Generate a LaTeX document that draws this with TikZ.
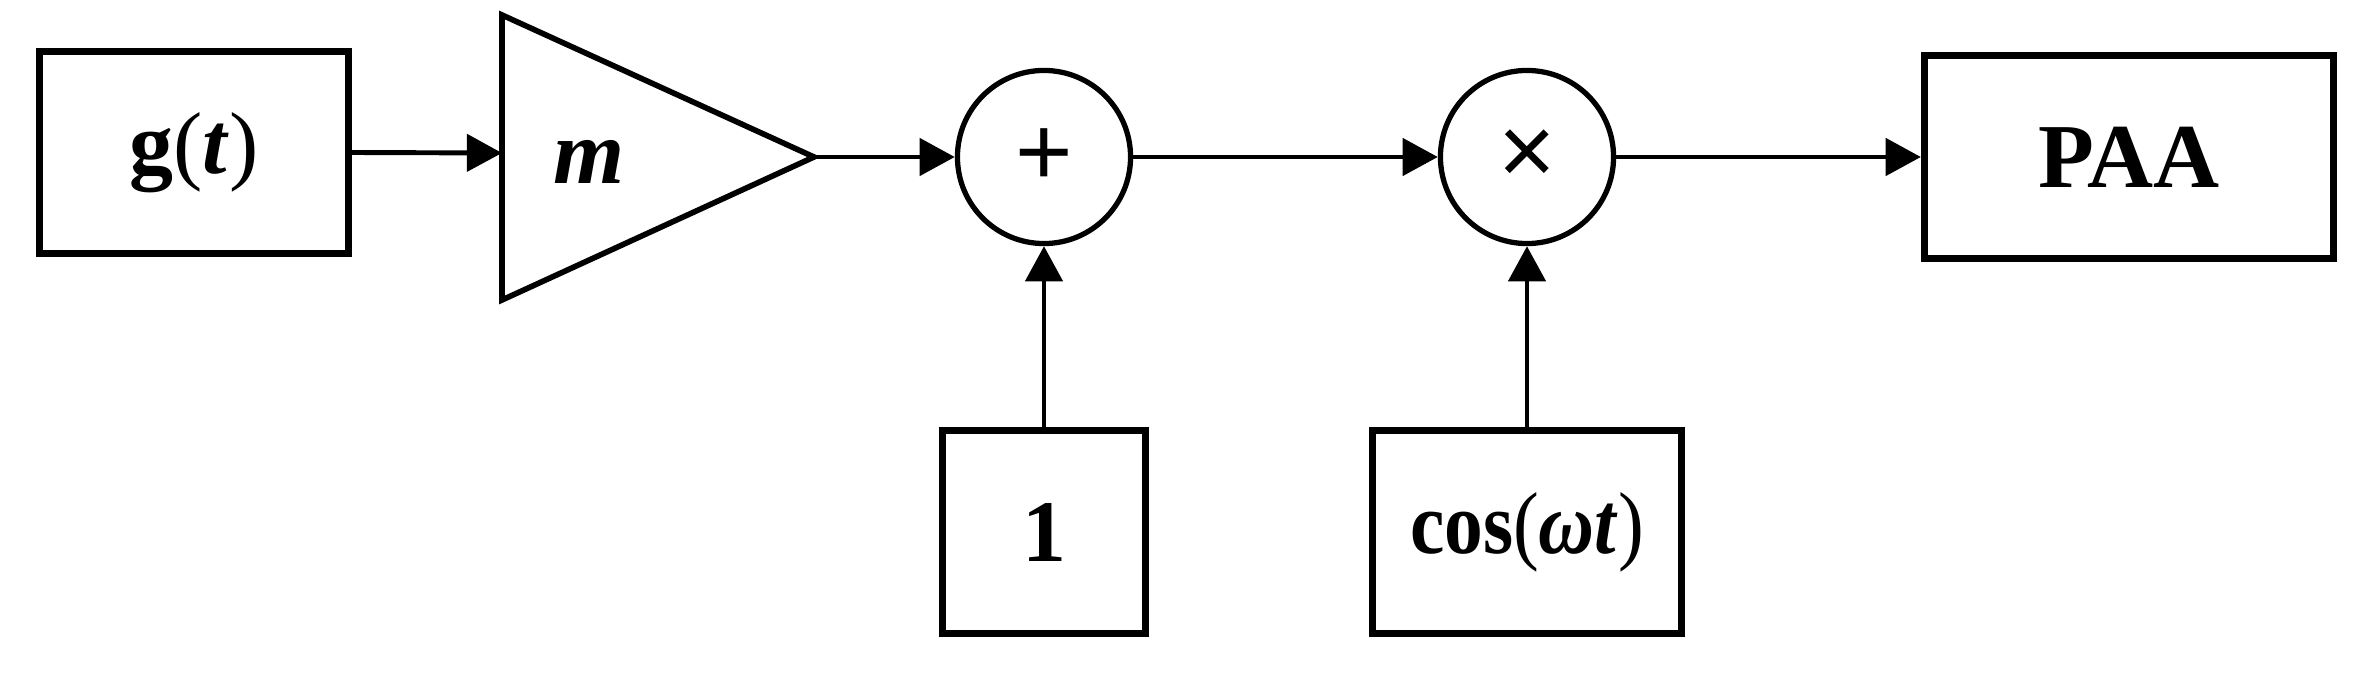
\documentclass[tikz,border=0pt]{standalone}
\usepackage{fontspec}
\setmainfont{Liberation Serif}
\newfontfamily\symfont{Liberation Sans}
\newfontfamily\narrowserif{Liberation Serif}[FakeStretch=0.88]
\usetikzlibrary{arrows.meta}
\newcommand{\lpar}{{\mdseries\upshape(}}
\newcommand{\rpar}{{\mdseries\upshape)}}
\begin{document}
\begin{tikzpicture}[x=0.01cm,y=-0.01cm,
  blk/.style={draw, line width=2pt, rectangle, inner sep=0pt,
    font=\fontsize{25}{30}\selectfont\bfseries},
  opnode/.style={draw, circle, line width=1.5pt, inner sep=0pt,
    minimum size=1.73cm, font=\symfont\fontsize{28}{30}\selectfont},
  conn/.style={-{Triangle[length=10pt,width=10.5pt]}, line width=1.4pt}]
\useasboundingbox[fill=white] (0,0) rectangle (2363,673);
% blocks
\node[blk, minimum width=3.09cm, minimum height=2.02cm] (g) at (194,152.5) {g\lpar\textit{t}\rpar};
\node[blk, minimum width=4.09cm, minimum height=2.03cm, font=\fontsize{26}{30}\selectfont\bfseries] (paa) at (2129,157) {PAA};
\node[blk, minimum width=2.02cm, minimum height=2.03cm] (one) at (1044,532) {1};
\node[blk, minimum width=3.09cm, minimum height=2.03cm, font=\narrowserif\fontsize{25}{30}\selectfont\bfseries] (cos) at (1527,532) {cos\lpar\textit{ω}\textit{t}\rpar};
% operators
\node[opnode] (plus) at (1044,157) {+};
\node[opnode] (times) at (1527,157) {×};
% amplifier triangle
\coordinate (triin) at (502,153);
\coordinate (triout) at (814,157);
\draw[line width=1.6pt, line join=miter] (502,15) -- (triout) -- (502,300) -- cycle;
\node[font=\fontsize{26}{30}\selectfont\bfseries\itshape] (mlabel) at (589,162) {m};
% connectors
\draw[conn] (g.east) -- (triin);
\draw[conn] (triout) -- (plus.west);
\draw[conn] (plus.east) -- (times.west);
\draw[conn] (times.east) -- (paa.west);
\draw[conn] (one.north) -- (plus.south);
\draw[conn] (cos.north) -- (times.south);
\end{tikzpicture}
\end{document}
